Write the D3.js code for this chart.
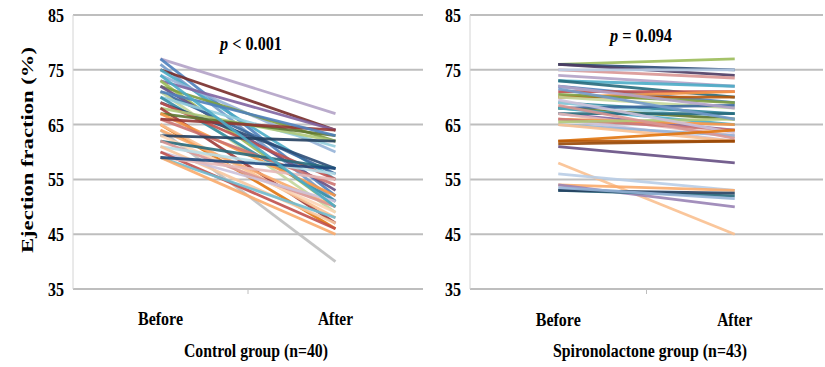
<!DOCTYPE html>
<html>
<head>
<meta charset="utf-8">
<script src="https://cdn.jsdelivr.net/npm/d3@7"></script>
<style>
  html, body { margin: 0; padding: 0; background: #fff; }
  svg text { font-family: "Liberation Serif", "Times New Roman", serif; font-weight: bold; fill: #000; }
</style>
</head>
<body>
<div id="chart"></div>
<script>
// values (ejection fraction, %)
var categories = ['Before', 'After'];
var yTicks = [35, 45, 55, 65, 75, 85];

var controlBefore = [77, 77, 76, 75, 75, 74, 73, 73, 72, 72, 71, 71, 70, 70, 69, 69, 68, 68, 67, 67,
                     66, 65, 65, 64, 64, 63, 63, 62, 62, 61, 61, 60, 60, 59, 59, 59, 66, 71, 59, 74];
var controlAfter  = [67, 52, 51, 64, 55, 60, 64, 50, 62, 53, 56, 49, 61, 51, 57, 55, 62, 47, 63, 52,
                     54, 46, 48, 40, 50, 62, 49, 57, 50, 56, 47, 51, 46, 55, 48, 45, 64, 63, 57, 50];

var spiroBefore = [76, 76, 76, 75, 75, 74, 73, 73, 72, 71, 70, 70, 70.5, 70, 69, 69, 68, 68, 68, 67, 67, 67,
                   66, 66, 66, 65, 65, 65.5, 72, 71.5, 69.5, 68.5, 62, 62, 61.5, 61, 58, 56, 54, 54, 53, 53, 53.5];
var spiroAfter  = [77, 75, 74, 73.5, 75, 72, 72, 70, 69, 71, 71, 70, 69, 68, 67, 66, 68.5, 66, 65, 64, 67, 63,
                   65, 62, 64, 63, 62, 66, 68, 66, 63.5, 62.5, 64, 62, 62, 58, 45, 53, 53, 50, 52, 52.5, 51.5];

var p1 = 'p < 0.001';
var p2 = 'p = 0.094';

// line colours (Excel-like series palette)
var controlColors = ['#B3A2C7', '#4F81BD', '#729ACA', '#772C2A', '#4BACC6', '#95B3D7', '#8064A2', '#9BBB59',
  '#7E9D40', '#664F83', '#3A679C', '#C3D69B', '#93CDDD', '#358EA6', '#2C4D75', '#C0504D', '#AFC97A', '#9F3B38',
  '#5F7530', '#F79646', '#CD7371', '#E1750E', '#FAC090', '#BFBFBF', '#F9AB6B', '#254061', '#FCD5B5', '#276A7C',
  '#D99694', '#B7DEE8', '#F6C6A0', '#CCC1DA', '#C0504D', '#E6B9B8', '#6FBDD1', '#F9AB6B', '#953735', '#4F81BD',
  '#1F497D', '#4BACC6'];
var spiroColors = ['#9BBB59', '#2C4D75', '#4D3B62', '#D99694', '#B9CDE5', '#B3A2C7', '#4BACC6', '#276A7C',
  '#4F81BD', '#C0504D', '#F79646', '#B65708', '#7E9D40', '#C3D69B', '#31859C', '#93CDDD', '#3A679C', '#5F7530',
  '#4BACC6', '#8064A2', '#276A7C', '#E6B9B8', '#F79646', '#CCC1DA', '#CD7371', '#95B3D7', '#FAC090', '#AFC97A',
  '#B3A2C7', '#729ACA', '#CCC1DA', '#D99694', '#E1750E', '#B65708', '#984807', '#664F83', '#FAC090', '#B9CDE5',
  '#F9AB6B', '#9983B5', '#276A7C', '#254061', '#95B3D7'];

var W = 825, H = 367;
var svg = d3.select('#chart').append('svg').attr('width', W).attr('height', H);

var y = d3.scaleLinear().domain([35, 85]).range([289, 15]);

function drawPanel(opts) {
    var x = d3.scaleBand().domain(categories).range([opts.x0, opts.x1]);
    var cx = function (c) { return x(c) + x.bandwidth() / 2; };
    var g = svg.append('g');

    // gridlines
    g.selectAll('.grid').data(yTicks).enter().append('line')
        .attr('x1', opts.x0).attr('x2', opts.x1)
        .attr('y1', function (d) { return y(d); }).attr('y2', function (d) { return y(d); })
        .attr('stroke', '#BEBEBE').attr('stroke-width', 2);

    // vertical axis line + centre tick
    g.append('line').attr('x1', opts.x0).attr('x2', opts.x0).attr('y1', y(85)).attr('y2', y(35))
        .attr('stroke', '#D4D4D4').attr('stroke-width', 1);
    g.append('line').attr('x1', x('After')).attr('x2', x('After')).attr('y1', y(35)).attr('y2', y(35) + 5)
        .attr('stroke', '#BEBEBE').attr('stroke-width', 1);

    // y tick labels
    var yAxis = g.append('g').attr('transform', 'translate(' + (opts.x0 - 9) + ',0)')
        .call(d3.axisLeft(y).tickValues(yTicks).tickSize(0).tickFormat(d3.format('d')));
    yAxis.select('.domain').remove();
    yAxis.selectAll('text').attr('x', 0).attr('dy', '0.36em').attr('textLength', 16).attr('lengthAdjust', 'spacingAndGlyphs')
        .style('font-size', '18px').style('font-family', '"Liberation Serif", serif').style('font-weight', 'bold');

    // x tick labels
    var xAxis = g.append('g').attr('transform', 'translate(0,' + opts.xLabelY + ')')
        .call(d3.axisBottom(x).tickSize(0));
    xAxis.select('.domain').remove();
    xAxis.selectAll('text').attr('y', 0).attr('dy', 0)
        .attr('textLength', function (d) { return d === 'Before' ? 45 : 35; }).attr('lengthAdjust', 'spacingAndGlyphs')
        .style('font-size', '18px').style('font-family', '"Liberation Serif", serif').style('font-weight', 'bold');

    // paired lines
    var pairs = opts.before.map(function (b, i) { return { before: b, after: opts.after[i], color: opts.colors[i] }; });
    g.selectAll('.pair').data(pairs).enter().append('line')
        .attr('x1', cx('Before')).attr('x2', cx('After'))
        .attr('y1', function (d) { return y(d.before); })
        .attr('y2', function (d) { return y(d.after); })
        .attr('stroke', function (d) { return d.color; })
        .attr('stroke-width', 2.8)
        .attr('stroke-opacity', 0.9);

    // p value
    var pt = g.append('text').attr('x', opts.pX).attr('y', opts.pY).attr('text-anchor', 'middle')
        .attr('textLength', 62).attr('lengthAdjust', 'spacingAndGlyphs').style('font-size', '18px');
    pt.append('tspan').style('font-style', 'italic').text(opts.pText.charAt(0));
    pt.append('tspan').text(opts.pText.slice(1));

    // group label
    g.append('text').attr('x', opts.labelX).attr('y', 357).attr('text-anchor', 'middle')
        .attr('textLength', opts.labelW).attr('lengthAdjust', 'spacingAndGlyphs')
        .style('font-size', '18px').text(opts.label);
}

drawPanel({ x0: 73, x1: 423, before: controlBefore, after: controlAfter, colors: controlColors,
    pText: p1, pX: 251, pY: 50, label: 'Control group (n=40)', labelX: 256, labelW: 144, xLabelY: 325 });
drawPanel({ x0: 470, x1: 823, before: spiroBefore, after: spiroAfter, colors: spiroColors,
    pText: p2, pX: 641, pY: 42, label: 'Spironolactone group (n=43)', labelX: 650, labelW: 194, xLabelY: 326 });

// y axis title
svg.append('text').attr('transform', 'translate(33,150) rotate(-90)').attr('text-anchor', 'middle')
    .attr('textLength', 206).attr('lengthAdjust', 'spacingAndGlyphs')
    .style('font-size', '17px').text('Ejection fraction (%)');
</script>
</body>
</html>
